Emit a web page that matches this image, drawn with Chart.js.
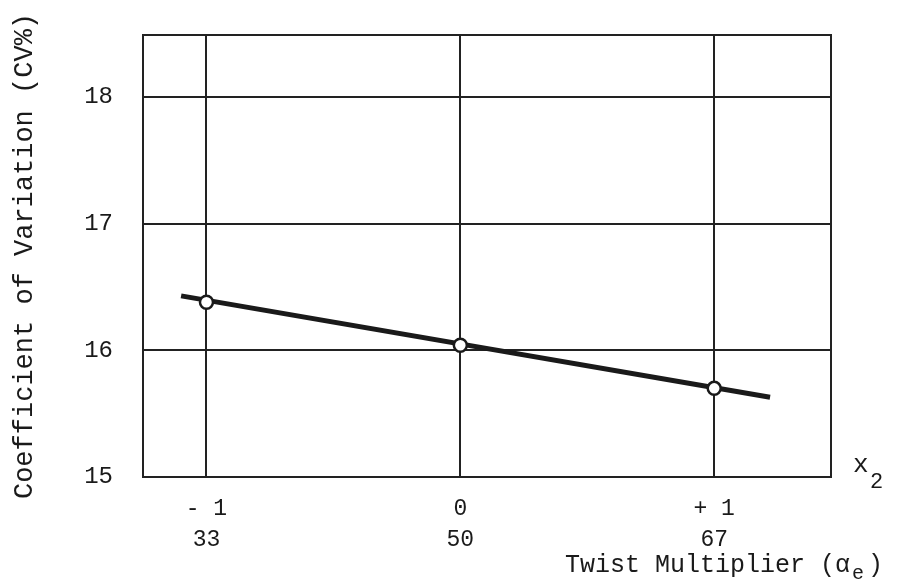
<!DOCTYPE html>
<html>
<head>
<meta charset="utf-8">
<script src="https://cdn.jsdelivr.net/npm/chart.js@4"></script>
<style>
  html, body { margin: 0; padding: 0; background: #fff; }
  #wrap { width: 902px; height: 587px; }
</style>
</head>
<body>
<div id="wrap"><canvas id="cv"></canvas></div>
<script>
// coded level of the twist factor and the actual multiplier it stands for
const codedLevels = [-1, 0, 1];
const levelNames = ['- 1', '0', '+ 1'];
const multipliers = ['33', '50', '67'];
// measured CV% at each level
const cvValues = [16.38, 16.04, 15.70];
// fitted line, drawn a little past the outer levels
const fitX = [-1.1, 1.22];
const fitY = [16.43, 15.63];
const yTicks = [15, 16, 17, 18];

const ink = '#1a1a1a';
const mono = '"Liberation Mono", "DejaVu Sans Mono", monospace';

// closed frame round the plot, plus the x2 symbol and the axis caption
const axisNotes = {
  id: 'axisNotes',
  beforeDatasetsDraw(chart) {
    const ctx = chart.ctx;
    const a = chart.chartArea;
    ctx.save();
    ctx.strokeStyle = '#222';
    ctx.lineWidth = 2;
    ctx.strokeRect(a.left, a.top, a.right - a.left, a.bottom - a.top);
    ctx.restore();
  },
  afterDraw(chart) {
    const ctx = chart.ctx;
    const area = chart.chartArea;
    ctx.save();
    ctx.fillStyle = ink;
    ctx.textBaseline = 'alphabetic';
    ctx.textAlign = 'left';
    ctx.font = '26px ' + mono;
    ctx.fillText('x', area.right + 22, area.bottom - 5);
    ctx.font = '22px ' + mono;
    ctx.fillText('2', area.right + 39, area.bottom + 11);

    const base = 572;
    let x = 565;
    ctx.font = '25px ' + mono;
    const main = 'Twist Multiplier (\u03b1';
    ctx.fillText(main, x, base);
    x += ctx.measureText(main).width + 2;
    ctx.font = '20px ' + mono;
    ctx.fillText('e', x, base + 7);
    x += ctx.measureText('e').width + 4;
    ctx.font = '25px ' + mono;
    ctx.fillText(')', x, base);
    ctx.restore();
  }
};

new Chart(document.getElementById('cv'), {
  type: 'scatter',
  data: {
    datasets: [
      {
        type: 'line',
        data: fitX.map((x, i) => ({ x: x, y: fitY[i] })),
        borderColor: ink,
        borderWidth: 5,
        pointRadius: 0,
        fill: false,
        order: 2
      },
      {
        data: codedLevels.map((x, i) => ({ x: x, y: cvValues[i] })),
        backgroundColor: '#fff',
        borderColor: ink,
        borderWidth: 2.5,
        pointRadius: 6.5,
        order: 1
      }
    ]
  },
  options: {
    responsive: true,
    maintainAspectRatio: false,
    animation: false,
    layout: { padding: { top: 35, right: 71, left: 0, bottom: 0 } },
    plugins: {
      legend: { display: false },
      tooltip: { enabled: false }
    },
    scales: {
      x: {
        type: 'linear',
        min: -1.25,
        max: 1.46,
        afterBuildTicks: axis => { axis.ticks = codedLevels.map(v => ({ value: v })); },
        afterFit: axis => { axis.height = 110; axis.paddingLeft = 0; axis.paddingRight = 0; },
        ticks: {
          color: ink,
          font: { family: mono, size: 23, lineHeight: 1.35 },
          padding: 16,
          maxRotation: 0,
          callback: (v) => {
            const i = codedLevels.indexOf(v);
            return [levelNames[i], multipliers[i]];
          }
        },
        grid: { color: '#222', lineWidth: 2, drawTicks: false },
        border: { color: '#222', width: 2 }
      },
      y: {
        min: 15,
        max: 18.49,
        afterBuildTicks: axis => { axis.ticks = yTicks.map(v => ({ value: v })); },
        afterFit: axis => { axis.width = 143; axis.paddingTop = 0; axis.paddingBottom = 0; },
        ticks: {
          color: ink,
          font: { family: mono, size: 24 },
          padding: 30
        },
        grid: { color: '#222', lineWidth: 2, drawTicks: false },
        border: { color: '#222', width: 2 },
        title: {
          display: true,
          text: 'Coefficient of Variation (CV%)',
          color: ink,
          font: { family: mono, size: 27 },
          padding: { top: 9, bottom: 0 }
        }
      }
    }
  },
  plugins: [axisNotes]
});
</script>
</body>
</html>
